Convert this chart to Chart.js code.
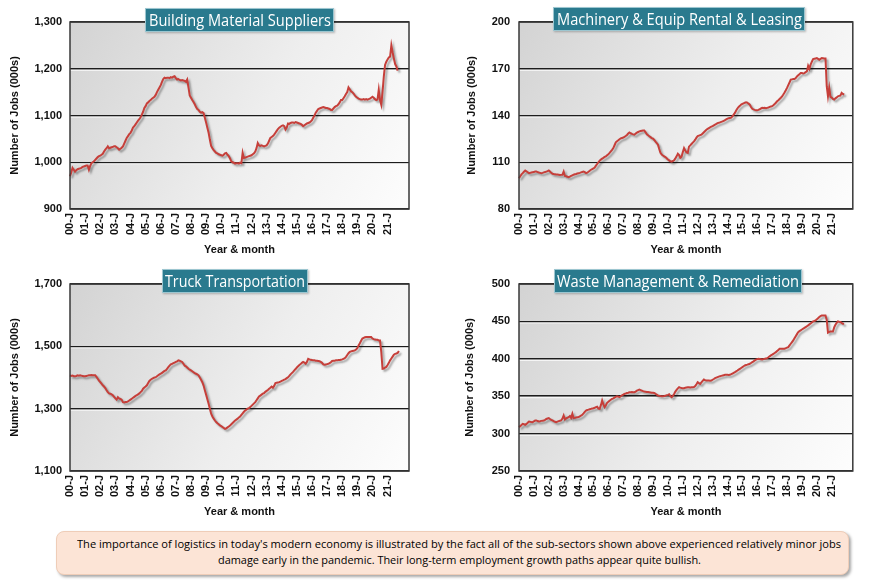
<!DOCTYPE html>
<html>
<head>
<meta charset="utf-8">
<script src="https://cdn.jsdelivr.net/npm/chart.js@4/dist/chart.umd.min.js"></script>
<style>
  html, body { margin:0; padding:0; background:#ffffff; }
  #stage { position:relative; width:870px; height:580px; overflow:hidden; background:#fff; }
  .panel { position:absolute; width:435px; height:262px; }
  .ttl { position:absolute; height:24px; background:#2a7a8e; border:1px solid #9cc6d0; box-sizing:border-box;
         color:#fff; font-family:"Open Sans", sans-serif; font-size:17px; line-height:21px; white-space:nowrap;
         overflow:visible; box-shadow:1px 1px 2px rgba(0,0,0,0.25); }
  .ttl span { display:inline-block; transform-origin:0 50%; }
  #caption { position:absolute; left:56px; top:531px; width:793px; height:44px; box-sizing:border-box;
             background:#fce4d6; border:1px solid #efcdb8; border-radius:8px;
             box-shadow:2px 2px 3px rgba(0,0,0,0.35); font-family:"Open Sans", sans-serif; font-size:11px; color:#000; }
  #caption div { position:absolute; white-space:nowrap; }
  #caption span { display:inline-block; transform-origin:0 50%; }
</style>
</head>
<body>
<div id="stage">
  <div class="panel" style="left:0;top:0"><canvas id="c1" width="435" height="262"></canvas></div>
  <div class="panel" style="left:435px;top:0"><canvas id="c2" width="435" height="262"></canvas></div>
  <div class="panel" style="left:0;top:262px"><canvas id="c3" width="435" height="262"></canvas></div>
  <div class="panel" style="left:435px;top:262px"><canvas id="c4" width="435" height="262"></canvas></div>
  <div id="titles"></div>
  <div id="caption">
    <div id="cap1" style="left:20px;top:4px"><span>The importance of logistics in today's modern economy is illustrated by the fact all of the sub-sectors shown above experienced relatively minor jobs</span></div>
    <div id="cap2" style="left:161px;top:20px"><span>damage early in the pandemic. Their long-term employment growth paths appear quite bullish.</span></div>
  </div>
</div>
<script>
// ---------------- DATA ----------------
const yearTicks = ['00-J','01-J','02-J','03-J','04-J','05-J','06-J','07-J','08-J','09-J','10-J',
                   '11-J','12-J','13-J','14-J','15-J','16-J','17-J','18-J','19-J','20-J','21-J'];
const axisMonths = 270; // Jan 2000 .. Jun 2022 category slots on the axis

const panelTitles = ['Building Material Suppliers','Machinery & Equip Rental & Leasing',
                     'Truck Transportation','Waste Management & Remediation'];

// Building Material Suppliers, monthly from Jan 2000 (000s)
const buildingMaterial = [
 970, 978, 988, 984, 980, 983, 985, 986, 987, 988, 990, 991,
 992, 993, 993, 984, 992, 998, 1000, 1002, 1005, 1008, 1011, 1013,
 1014, 1016, 1018, 1023, 1027, 1030, 1034, 1030, 1031, 1032, 1033, 1034,
 1034, 1032, 1030, 1027, 1029, 1031, 1034, 1040, 1046, 1052, 1056, 1060,
 1063, 1068, 1074, 1077, 1081, 1085, 1089, 1092, 1096, 1102, 1108, 1116,
 1120, 1126, 1128, 1131, 1133, 1136, 1138, 1140, 1144, 1150, 1155, 1160,
 1165, 1172, 1178, 1181, 1180, 1181, 1181, 1180, 1182, 1181, 1183, 1184,
 1180, 1177, 1178, 1176, 1175, 1176, 1175, 1174, 1172, 1177, 1160, 1143,
 1138, 1133, 1129, 1124, 1118, 1114, 1112, 1108, 1106, 1107, 1105, 1095,
 1085, 1074, 1063, 1048, 1035, 1030, 1026, 1023, 1020, 1019, 1017, 1016,
 1015, 1014, 1016, 1019, 1020, 1016, 1013, 1008, 1002, 1000, 999, 997,
 998, 998, 997, 999, 998, 1020, 1009, 1010, 1011, 1012, 1013, 1014,
 1015, 1017, 1019, 1023, 1030, 1041, 1036, 1035, 1036, 1035, 1034, 1035,
 1036, 1040, 1046, 1052, 1054, 1056, 1059, 1063, 1067, 1071, 1074, 1076,
 1078, 1079, 1077, 1070, 1074, 1083, 1082, 1084, 1085, 1085, 1084, 1086,
 1085, 1084, 1083, 1082, 1080, 1077, 1079, 1081, 1083, 1084, 1085, 1087,
 1090, 1095, 1100, 1106, 1110, 1114, 1115, 1116, 1117, 1118, 1117, 1116,
 1116, 1115, 1114, 1112, 1112, 1115, 1118, 1120, 1121, 1124, 1128, 1133,
 1133, 1137, 1141, 1146, 1150, 1160, 1156, 1152, 1150, 1147, 1143, 1140,
 1138, 1136, 1135, 1134, 1134, 1135, 1134, 1135, 1134, 1135, 1136, 1138,
 1140, 1138, 1135, 1133, 1134, 1155, 1133, 1123, 1150, 1183, 1208, 1215,
 1220, 1224, 1226, 1250, 1235, 1222, 1210, 1205, 1196
];

// Machinery & Equipment Rental & Leasing
const machineryRental = [
 99.7, 101, 102.2, 103, 103.9, 104.7, 104.2, 103.6, 103, 103.2, 103.4, 103.6,
 103.8, 104, 104, 103.7, 103.4, 103.2, 103, 103.2, 103.5, 103.7, 104, 104.3,
 104.7, 104, 103.2, 102.6, 102.4, 102.3, 102.2, 102.1, 102, 101.8, 101.9, 102,
 104, 101.2, 101, 100.7, 100.4, 100.8, 101.2, 101.6, 102, 102.3, 102.5, 102.8,
 103, 103.2, 103.5, 103.8, 104, 103.6, 103, 103.4, 103.9, 104.5, 105.2, 105.6,
 106, 106.6, 107.8, 108.9, 110, 111, 111.7, 112.3, 112.8, 113.4, 113.8, 114.5,
 115.2, 116, 117, 118, 119.1, 120.9, 122.8, 123.5, 124.1, 124.8, 125.3, 125.6,
 125.9, 126.3, 126.8, 127.5, 128.4, 129.1, 128.6, 128.2, 127.9, 127.7, 128.4, 129,
 129.4, 129.8, 130, 130.2, 130.4, 130.4, 129.2, 127.9, 127.3, 126.7, 126.1, 125.5,
 125.2, 124.3, 123.2, 122.3, 121.3, 118.5, 116, 114.9, 114.3, 113.8, 113.3, 112.6,
 111.8, 111.2, 110.6, 110.4, 110.8, 111.3, 112.5, 113.8, 115.5, 114.6, 112.8, 113.5,
 116.5, 119.1, 117.5, 116.3, 116, 120, 120.8, 121.7, 122.6, 123.4, 124.5, 125.8,
 126.8, 127.1, 127.4, 127.7, 128.5, 129.3, 130.1, 130.9, 131.4, 131.9, 132.4, 132.8,
 133.2, 133.7, 134.2, 134.6, 135.1, 135.3, 135.6, 135.9, 136.2, 136.6, 137, 137.5,
 138, 138.2, 138.4, 138.6, 139.5, 140.6, 141.7, 143.2, 144.5, 145.5, 146.2, 147,
 147.4, 147.8, 148.2, 148.5, 148.3, 147.6, 147, 145.5, 144.3, 143.9, 143.6, 143.4,
 143.4, 143.6, 144, 144.5, 144.9, 144.8, 144.9, 144.7, 144.9, 145.1, 145.5, 145.8,
 146, 146.6, 147.3, 148.2, 149.1, 149.8, 150.6, 151.4, 152.3, 153.5, 154.8, 156.2,
 157.7, 159.5, 161.2, 163, 163.2, 163.4, 163.4, 164, 165.1, 165.8, 166.5, 167.2,
 167.2, 167, 167.2, 167.8, 168.3, 171.9, 170, 172.6, 174.5, 176.2, 176.4, 176.6,
 176.8, 176.3, 175.8, 176.3, 176.8, 176.7, 176.6, 176.6, 158.8, 152.3, 157.7, 151.9,
 151.5, 150.6, 150.2, 151, 151.6, 152.3, 152.6, 152.8, 154.5, 153.8, 153.4
];

// Truck Transportation
const truckTransport = [
 1407, 1405, 1406, 1404, 1404, 1405, 1407, 1406, 1407, 1406, 1405, 1404,
 1404, 1405, 1406, 1407, 1407, 1408, 1407, 1407, 1407, 1402, 1396, 1390,
 1385, 1380, 1375, 1371, 1366, 1359, 1353, 1349, 1348, 1346, 1343, 1338,
 1333, 1329, 1337, 1333, 1331, 1329, 1321, 1320, 1321, 1321, 1323, 1326,
 1329, 1332, 1335, 1338, 1341, 1343, 1346, 1349, 1353, 1357, 1364, 1368,
 1371, 1375, 1382, 1389, 1393, 1396, 1398, 1400, 1401, 1404, 1407, 1410,
 1412, 1415, 1418, 1421, 1423, 1428, 1433, 1438, 1442, 1444, 1446, 1448,
 1450, 1452, 1455, 1454, 1452, 1450, 1444, 1438, 1436, 1432, 1428, 1425,
 1423, 1420, 1417, 1414, 1412, 1410, 1407, 1400, 1393, 1385, 1374, 1359,
 1345, 1330, 1316, 1300, 1284, 1275, 1268, 1262, 1257, 1253, 1250, 1246,
 1244, 1241, 1238, 1235, 1237, 1240, 1243, 1246, 1250, 1254, 1258, 1262,
 1265, 1268, 1272, 1275, 1280, 1285, 1290, 1294, 1297, 1300, 1302, 1305,
 1309, 1313, 1317, 1321, 1327, 1333, 1339, 1342, 1345, 1348, 1350, 1354,
 1357, 1360, 1364, 1367, 1371, 1367, 1373, 1382, 1383, 1384, 1385, 1387,
 1389, 1391, 1393, 1395, 1398, 1401, 1405, 1410, 1414, 1418, 1423, 1427,
 1432, 1436, 1440, 1443, 1447, 1450, 1448, 1444, 1450, 1460, 1458, 1457,
 1456, 1455, 1455, 1454, 1454, 1453, 1452, 1450, 1447, 1442, 1441, 1442,
 1443, 1444, 1446, 1449, 1453, 1454, 1454, 1455, 1455, 1456, 1456, 1457,
 1458, 1460, 1462, 1466, 1472, 1478, 1482, 1484, 1485, 1486, 1487, 1490,
 1494, 1503, 1510, 1518, 1525, 1527, 1529, 1530, 1530, 1530, 1530, 1530,
 1525, 1523, 1522, 1521, 1521, 1519, 1519, 1482, 1428, 1429, 1432, 1434,
 1440, 1447, 1455, 1461, 1467, 1473, 1476, 1477, 1479, 1485
];

// Waste Management & Remediation
const wasteManagement = [
 308.7, 310, 311.5, 313, 312.5, 311.8, 313, 314.5, 316.2, 315.8, 315.5, 315.3,
 316.5, 317.4, 317.6, 316.8, 316.2, 316.5, 317, 317.3, 317.6, 318.5, 319.5, 320.2,
 320.7, 319.5, 318.5, 317.6, 316.6, 315.8, 315.3, 316, 316.7, 317.2, 317.6, 320,
 324.2, 318.9, 320.5, 321.2, 322, 323.5, 321, 326.4, 320.7, 321, 321.5, 321.8,
 322, 323, 324.2, 325.1, 327, 329, 330.9, 331.5, 332, 332.6, 333.1, 333.6,
 334, 334.6, 335.3, 336, 333.5, 333.1, 338, 344.2, 339, 335.3, 338, 341.1,
 342.5, 344, 345.3, 346.4, 347.2, 348.2, 349.2, 350, 349.5, 348.7, 350, 351.2,
 352, 353.1, 353.6, 354.2, 354.7, 355.3, 355.3, 355.5, 355.2, 355.3, 356.2, 357.5,
 358.2, 358.9, 358.2, 357.5, 356.8, 356.2, 356, 355.7, 355.5, 355.3, 355, 354.7,
 354.6, 354.4, 353.2, 352, 350.9, 350.5, 350.2, 350, 350, 350.2, 350.5, 351.4,
 351.8, 352.5, 350.2, 348.7, 350.5, 353, 356.2, 358.5, 360.5, 362, 361.4, 360.9,
 360.7, 360.7, 361.2, 361.6, 362, 362, 361.8, 362, 362, 362.2, 363.5, 366,
 368.8, 367.5, 366.5, 368.5, 370.5, 372.3, 371.5, 371, 371, 371, 370.8, 371,
 372, 373, 374.1, 374.8, 375.5, 376.2, 376.8, 377.2, 377.6, 378.1, 378.6, 378.6,
 378.6, 378.5, 378.6, 379.4, 380.3, 381.2, 382.1, 383.2, 384.3, 385.5, 386.6, 387.7,
 388.8, 390, 391.1, 391.7, 392.2, 392.8, 393.3, 394.4, 395.5, 396.6, 397.8, 398.8,
 399.6, 400, 399.7, 399.4, 399.1, 399.6, 400, 400.5, 400.9, 402, 403.3, 404.5,
 405.5, 406.6, 407.7, 408.9, 410.4, 411.9, 413.4, 413.4, 413.3, 413.4, 413.5, 414.2,
 415, 415.6, 417.9, 420.1, 422.4, 424.6, 427.4, 430.2, 433, 435.7, 437, 438.1,
 439.2, 440.2, 441.3, 442.4, 443.5, 444.6, 446, 447.3, 448.6, 450, 450.6, 451.3,
 452.7, 454.3, 455.8, 457, 458, 458, 458, 458, 452, 435, 436, 436.6,
 436.6, 436.6, 442, 445.5, 448, 450, 449.6, 449.3, 448, 446.9, 446.9
];

// y-axis ranges (min, max, step) per panel
const yMins  = [900, 80, 1100, 250];
const yMaxs  = [1300, 200, 1700, 500];
const ySteps = [100, 30, 200, 50];

// ---------------- BUILD ----------------
const monthLabels = [];
for (let i = 0; i < axisMonths; i++) {
  monthLabels.push(i % 12 === 0 && (i / 12) < yearTicks.length ? yearTicks[i / 12] : '');
}

const seriesList = [buildingMaterial, machineryRental, truckTransport, wasteManagement];

// layout (geometry only)
const layoutCfg = [
  { id:'c1', yWidth:70, padRight:26, yTitlePad:8.5, tickPad:8, title:{left:145, top:8,  width:189, text:182} },
  { id:'c2', yWidth:84, padRight:12, yTitlePad:30,  tickPad:9, title:{left:553, top:7,  width:252, text:245} },
  { id:'c3', yWidth:70, padRight:26, yTitlePad:8.5, tickPad:8, title:{left:162, top:269, width:146, text:140} },
  { id:'c4', yWidth:84, padRight:12, yTitlePad:28.5,tickPad:9, title:{left:554, top:269, width:248, text:242} }
];

const FONT = 'Liberation Sans, Arial, sans-serif';

const plotDecor = {
  id: 'plotDecor',
  beforeDraw(chart) {
    const {ctx, chartArea: a} = chart;
    ctx.save();
    const g = ctx.createLinearGradient(a.left, a.top, a.right, a.bottom);
    g.addColorStop(0, '#d3d3d3');
    g.addColorStop(0.55, '#eeeeee');
    g.addColorStop(1, '#fdfdfd');
    ctx.fillStyle = g;
    ctx.fillRect(a.left, a.top, a.right - a.left, a.bottom - a.top);
    ctx.restore();
  },
  beforeDatasetsDraw(chart) {
    const {ctx, chartArea: a} = chart;
    const ys = chart.scales.y;
    ctx.save();
    ctx.strokeStyle = 'rgba(255,255,255,0.9)';
    ctx.lineWidth = 1;
    ys.ticks.forEach(t => {
      const y = ys.getPixelForValue(t.value);
      if (y > a.top + 2 && y < a.bottom - 2) {
        ctx.beginPath(); ctx.moveTo(a.left, y + 1.5); ctx.lineTo(a.right, y + 1.5); ctx.stroke();
      }
    });
    ctx.restore();
    ctx.save();
    ctx.shadowColor = 'rgba(0,0,0,0.35)';
    ctx.shadowOffsetX = 2;
    ctx.shadowOffsetY = 2;
    ctx.shadowBlur = 2;
  },
  afterDatasetsDraw(chart) {
    chart.ctx.restore();
  },
  afterDraw(chart) {
    const {ctx, chartArea: a} = chart;
    ctx.save();
    ctx.strokeStyle = '#383838';
    ctx.lineWidth = 1.5;
    ctx.strokeRect(a.left, a.top, a.right - a.left, a.bottom - a.top);
    ctx.restore();
  }
};

layoutCfg.forEach((L, k) => {
  new Chart(document.getElementById(L.id), {
    type: 'line',
    data: {
      labels: monthLabels,
      datasets: [{
        data: seriesList[k],
        borderColor: '#c63f3a',
        borderWidth: 2,
        pointRadius: 0,
        tension: 0,
        fill: false
      }]
    },
    options: {
      responsive: false,
      animation: false,
      events: [],
      layout: { padding: { top: 22, right: L.padRight, left: 0, bottom: 0 } },
      plugins: { legend: { display: false }, tooltip: { enabled: false } },
      scales: {
        x: {
          type: 'category',
          grid: { display: false, drawTicks: false },
          border: { display: false },
          ticks: {
            autoSkip: false, maxRotation: 90, minRotation: 90, padding: 4,
            color: '#111', font: { family: FONT, size: 11, weight: 'bold' }
          },
          title: { display: true, text: 'Year & month', color: '#111',
                   font: { family: FONT, size: 11, weight: 'bold' }, padding: { top: 0, bottom: 5.4 } },
          afterFit(s) { s.height = 53; }
        },
        y: {
          min: yMins[k], max: yMaxs[k],
          grid: { color: '#1c1c1c', lineWidth: 1.5, drawTicks: false },
          border: { display: false },
          ticks: {
            stepSize: ySteps[k], padding: L.tickPad, color: '#111',
            font: { family: FONT, size: 11, weight: 'bold' },
            callback: v => Number(v).toLocaleString('en-US')
          },
          title: { display: true, text: 'Number of Jobs (000s)', color: '#111',
                   font: { family: FONT, size: 11, weight: 'bold' }, padding: { top: L.yTitlePad, bottom: 0 } },
          afterFit(s) { s.width = L.yWidth; }
        }
      }
    },
    plugins: [plotDecor]
  });

  // title box
  const box = document.createElement('div');
  box.className = 'ttl';
  box.style.left = L.title.left + 'px';
  box.style.top = L.title.top + 'px';
  box.style.width = L.title.width + 'px';
  const sp = document.createElement('span');
  sp.textContent = panelTitles[k];
  box.appendChild(sp);
  document.getElementById('titles').appendChild(box);
  const w = sp.getBoundingClientRect().width;
  const pad = (L.title.width - 2 - L.title.text) / 2;
  sp.style.marginLeft = pad + 'px';
  sp.style.transform = 'scaleX(' + (L.title.text / w) + ')';
});

// fit caption lines
function fitLine(id, target) {
  const s = document.querySelector('#' + id + ' span');
  const w = s.getBoundingClientRect().width;
  s.style.transform = 'scaleX(' + (target / w) + ')';
}
fitLine('cap1', 764);
fitLine('cap2', 483);
</script>
</body>
</html>
